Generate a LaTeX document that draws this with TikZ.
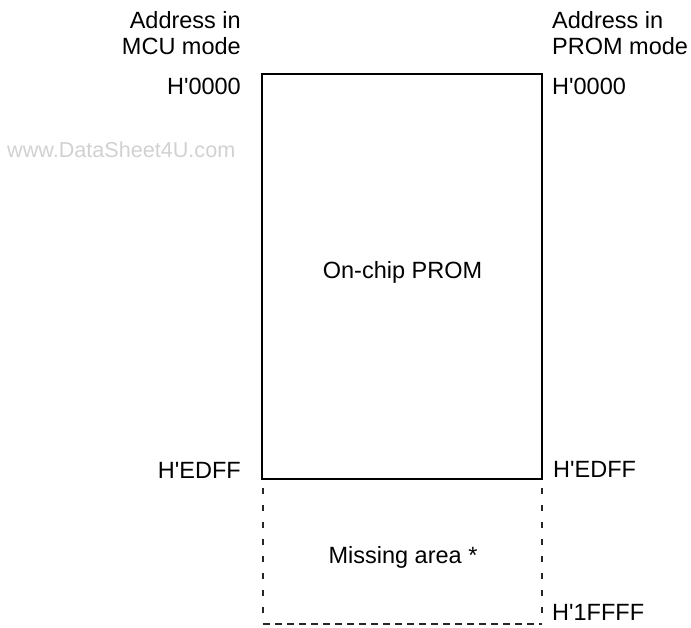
\documentclass[tikz,border=0pt]{standalone}
\usepackage{fontspec}
\setmainfont{Liberation Sans}
\newcommand{\hq}{H\textquotesingle}
\begin{document}
\begin{tikzpicture}[x=1pt,y=-1pt,
  lbl/.style={inner sep=0pt,font=\fontsize{23.5}{27}\selectfont},
  lbll/.style={lbl,anchor=base east},
  lblr/.style={lbl,anchor=base west},
  lblc/.style={lbl,anchor=base},
  wm/.style={inner sep=0pt,anchor=base west,text=black!18,font=\fontsize{21.6}{25}\selectfont},
  solidbox/.style={draw=black,line width=1.4pt},
  vdash/.style={draw=black!85,line width=1.3pt,dash pattern=on 6pt off 11pt},
  hdash/.style={draw=black!85,line width=1.8pt,dash pattern=on 7pt off 5pt}]
\useasboundingbox (0,0) rectangle (691,627);
% solid PROM box
\coordinate (tl) at (262,74);
\coordinate (tr) at (542,74);
\coordinate (bl) at (262,479);
\coordinate (br) at (542,479);
\draw[solidbox] (tl) -- (tr) -- (br) -- (bl) -- cycle;
% missing area (dashed)
\coordinate (dbl) at (263,624);
\coordinate (dbr) at (542,624);
\draw[vdash] (bl) ++(1,9) -- (dbl);
\draw[vdash] (br) ++(0,9) -- (dbr);
\draw[hdash] (dbl) -- (dbr);
% labels
\node[lbll] (lh1) at (241,28) {Address in};
\node[lbll] (lh2) at (241,54) {MCU mode};
\node[lblr] (rh1) at (552,28) {Address in};
\node[lblr] (rh2) at (552,54) {PROM mode};
\node[lbll] (l0) at (241,94) {\hq0000};
\node[lblr] (r0) at (552,94) {\hq0000};
\node[wm] (wm) at (7,157) {www.DataSheet4U.com};
\node[lblc] (prom) at (402.5,278) {On-chip PROM};
\node[lbll] (le) at (241,478) {\hq EDFF};
\node[lblr] (re) at (553,477) {\hq EDFF};
\node[lblc] (miss) at (403,563) {Missing area *};
\node[lblr] (r1) at (552,620) {\hq1FFFF};
\end{tikzpicture}
\end{document}
